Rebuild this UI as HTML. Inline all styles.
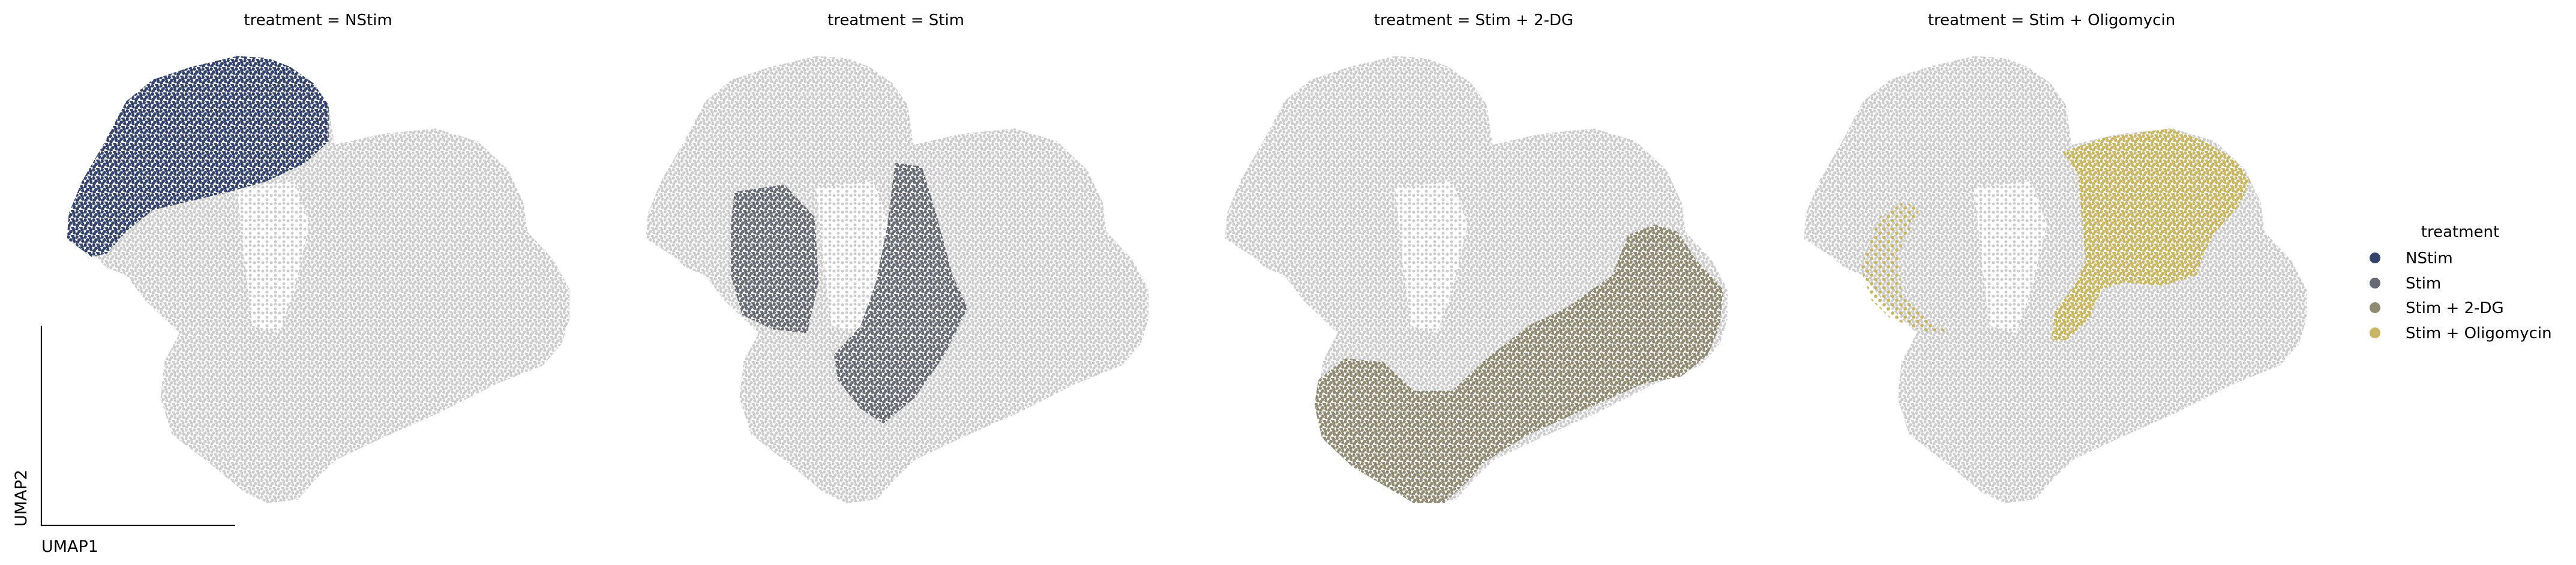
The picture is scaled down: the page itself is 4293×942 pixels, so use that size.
<!DOCTYPE html>
<html><head><meta charset="utf-8">
<style>
html,body{margin:0;padding:0;background:#fff;}
svg{display:block;font-family:"DejaVu Sans","Liberation Sans",sans-serif;}
</style></head>
<body>
<svg id="chart" width="4293" height="942" viewBox="0 0 4293 942" xmlns="http://www.w3.org/2000/svg">
<defs>
  <pattern id="pat-gray" width="14" height="14" patternUnits="userSpaceOnUse">
    <circle cx="2" cy="3" r="2.7" fill="#cccccc"/><circle cx="9" cy="1" r="2.7" fill="#cccccc"/>
    <circle cx="6" cy="8" r="2.7" fill="#cccccc"/><circle cx="12" cy="10" r="2.7" fill="#cccccc"/>
    <circle cx="3" cy="12" r="2.7" fill="#cccccc"/><circle cx="11" cy="5" r="2.5" fill="#cccccc"/>
  </pattern>
  <pattern id="pat-sparse" width="14" height="14" patternUnits="userSpaceOnUse">
    <rect width="14" height="14" fill="#fff"/>
    <circle cx="4" cy="4" r="2.5" fill="#cccccc"/><circle cx="11" cy="11" r="2.5" fill="#cccccc"/>
    <circle cx="11" cy="3" r="2.3" fill="#cccccc"/>
  </pattern>
</defs>
<g id="panels"></g>
<g>
  <text x="4100" y="395" font-size="26" text-anchor="middle">treatment</text>
  <g><circle cx="3958" cy="430" r="9" fill="#33436b"/><text x="4009" y="439" font-size="26">NStim</text></g>
  <g><circle cx="3958" cy="472" r="9" fill="#676a73"/><text x="4009" y="481" font-size="26">Stim</text></g>
  <g><circle cx="3958" cy="513" r="9" fill="#908a72"/><text x="4009" y="522" font-size="26">Stim + 2-DG</text></g>
  <g><circle cx="3958" cy="555" r="9" fill="#c8b663"/><text x="4009" y="564" font-size="26">Stim + Oligomycin</text></g>
</g>
<g>
  <line x1="69" y1="543" x2="69" y2="877" stroke="#000" stroke-width="2.2"/>
  <line x1="68" y1="876" x2="392" y2="876" stroke="#000" stroke-width="2.2"/>
  <text x="69" y="920" font-size="27">UMAP1</text>
  <text transform="translate(44,878) rotate(-90)" font-size="27">UMAP2</text>
</g>
</svg>
<script>
const panelTitles = ["treatment = NStim","treatment = Stim","treatment = Stim + 2-DG","treatment = Stim + Oligomycin"];
const groupColors = ["#33436b","#676a73","#908a72","#c8b663"];
// outline of all cells (UMAP units)
const allCellsU = [1.75,1.80,2.15,2.70,3.30,4.00,5.00,6.20,7.00,7.60,8.20,8.60,8.75,10.00,11.40,12.50,13.30,13.70,13.80,14.50,14.90,14.90,14.70,14.20,13.00,11.50,10.00,8.80,8.30,7.80,7.00,6.40,5.60,4.50,4.20,4.30,4.70,4.30,3.80,3.30,2.80,2.50];
const allCellsV = [8.40,9.10,10.00,11.00,12.20,12.80,13.15,13.45,13.40,13.15,12.70,12.10,11.00,11.30,11.45,11.10,10.30,9.40,8.60,7.80,7.00,6.20,5.50,4.90,4.40,3.60,2.90,2.30,1.80,1.20,1.10,1.40,2.10,3.00,4.00,5.00,5.80,6.20,6.70,7.40,7.60,7.90];
const gapU = [6.2,7.7,8.1,7.7,7.3,6.6,6.4];
const gapV = [9.8,10.0,8.8,7.0,5.8,6.0,7.8];
const nstimU = [1.75,1.80,2.15,2.70,3.30,4.00,5.00,6.20,7.00,7.60,8.20,8.60,8.60,8.00,7.00,6.00,4.80,4.00,3.30,2.80,2.40];
const nstimV = [8.40,9.10,10.00,11.00,12.20,12.80,13.15,13.45,13.40,13.15,12.70,12.10,11.10,10.50,10.00,9.70,9.40,9.20,8.60,8.00,7.90];
const stimLeftU = [4.07,5.37,6.17,6.27,5.97,5.07,4.27,3.97,3.97];
const stimLeftV = [9.70,9.90,9.00,7.20,5.80,5.90,6.30,7.40,8.80];
const stimRightU = [8.27,8.97,9.37,9.77,10.17,9.57,8.77,7.97,7.37,6.77,6.67,7.37,7.77,8.07];
const stimRightV = [10.50,10.40,9.00,7.40,6.50,5.20,4.00,3.30,3.70,4.50,5.20,6.00,7.20,8.80];
const dgU = [4.19,4.89,5.89,6.69,7.69,8.49,9.69,10.69,11.89,12.29,12.99,13.59,14.09,14.79,14.69,14.39,13.69,12.69,11.19,9.69,8.49,8.19,7.49,6.69,5.89,5.09,4.29,4.09];
const dgV = [4.50,5.10,5.00,4.20,4.20,5.00,6.00,6.50,7.40,8.50,8.80,8.60,7.80,7.00,6.00,5.20,4.60,4.40,3.70,3.00,2.20,1.80,1.10,1.10,1.60,2.10,2.90,3.80];
const oligoU = [8.52,9.62,11.32,12.22,13.02,13.42,13.12,12.52,12.22,12.02,11.12,10.12,9.52,9.22,8.62,8.22,8.32,8.82,9.12,9.02,8.92];
const oligoV = [10.80,11.20,11.45,11.10,10.60,10.00,9.30,8.60,8.00,7.40,7.10,7.20,7.00,6.20,5.60,5.60,6.40,7.10,7.80,9.00,10.20];
const oligoLeftU = [3.22,3.72,4.32,4.82,4.22,4.32,5.22,5.62,5.02,4.02,3.52];
const oligoLeftV = [7.60,9.00,9.40,9.30,8.00,6.80,6.00,5.80,5.80,6.20,6.70];

const PANEL_OFFSET = 965;
function xScale(u, p){ return p*PANEL_OFFSET + u*63.69; }
function yScale(v){ return (15 - v)*60.35; }
const NS = "http://www.w3.org/2000/svg";
const defs = document.querySelector("defs");
const root = document.getElementById("panels");

function makePattern(id, color, sparse){
  const pt = document.createElementNS(NS,"pattern");
  pt.setAttribute("id", id); pt.setAttribute("width","14"); pt.setAttribute("height","14");
  pt.setAttribute("patternUnits","userSpaceOnUse");
  const pts = sparse ? [[4,4],[11,11]] : [[2,3],[9,1],[6,8],[12,10],[3,12],[11,5]];
  pts.forEach(q => { const c = document.createElementNS(NS,"circle");
    c.setAttribute("cx", q[0]); c.setAttribute("cy", q[1]); c.setAttribute("r","2.9"); c.setAttribute("fill", color); pt.appendChild(c); });
  defs.appendChild(pt);
}
groupColors.forEach((c,i) => { makePattern("pat-c"+i, c, false); makePattern("pat-s"+i, c, true); });

function poly(g, us, vs, p, fill, name){
  const el = document.createElementNS(NS,"polygon");
  el.setAttribute("points", us.map((u,i) => xScale(u,p).toFixed(1)+","+yScale(vs[i]).toFixed(1)).join(" "));
  el.setAttribute("fill", fill);
  
  
  g.appendChild(el);
}

for (let p = 0; p < 4; p++){
  const g = document.createElementNS(NS,"g");
  
  
  root.appendChild(g);
  const t = document.createElementNS(NS,"text");
  t.setAttribute("x", 530 + p*963); t.setAttribute("y", 42);
  t.setAttribute("font-size","26"); t.setAttribute("text-anchor","middle");
  t.textContent = panelTitles[p];
  
  
  g.appendChild(t);
  poly(g, allCellsU, allCellsV, p, "url(#pat-gray)", "all-cells-background");
  poly(g, gapU, gapV, p, "url(#pat-sparse)", "sparse-region");
  if (p === 0) poly(g, nstimU, nstimV, p, "url(#pat-c0)", "nstim-cells");
  if (p === 1){ poly(g, stimLeftU, stimLeftV, p, "url(#pat-c1)", "stim-cells-left"); poly(g, stimRightU, stimRightV, p, "url(#pat-c1)", "stim-cells-right"); }
  if (p === 2) poly(g, dgU, dgV, p, "url(#pat-c2)", "stim-2dg-cells");
  if (p === 3){ poly(g, oligoU, oligoV, p, "url(#pat-c3)", "stim-oligomycin-cells"); poly(g, oligoLeftU, oligoLeftV, p, "url(#pat-s3)", "stim-oligomycin-cells-sparse"); }
}
</script>
</body></html>
